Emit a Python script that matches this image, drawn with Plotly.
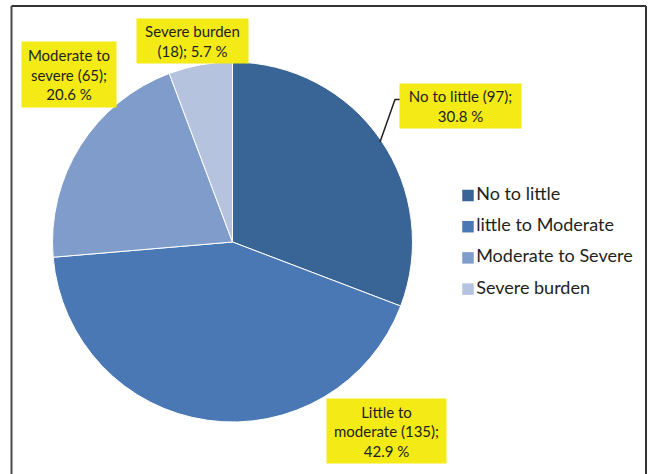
import plotly.graph_objects as go

# Burden categories and respondent counts
categories = ["No to little", "little to Moderate", "Moderate to Severe", "Severe burden"]
counts = [97, 135, 65, 18]
slice_colors = ["#386595", "#4a78b5", "#7f9ccb", "#b5c3de"]

# Callout label templates (one per slice)
label_templates = [
    "No to little ({n});<br>{p} %",
    "Little to<br>moderate ({n});<br>{p} %",
    "Moderate to<br>severe ({n});<br>{p} %",
    "Severe burden<br>({n}); {p} %",
]

W, H = 649, 474
FONT = "Lato"
TEXT = "#231f20"
YELLOW = "#f3ea16"

total = sum(counts)
pcts = [round(100 * c / total, 1) for c in counts]

# pie geometry in pixels
cx, cy, r = 232.5, 242, 180

fig = go.Figure()
fig.add_trace(go.Pie(
    labels=categories, values=counts, sort=False, direction="clockwise",
    marker=dict(colors=slice_colors, line=dict(color="white", width=1)),
    textinfo="none", showlegend=False,
    domain=dict(x=[(cx - r) / W, (cx + r) / W], y=[1 - (cy + r) / H, 1 - (cy - r) / H]),
))

# legend drawn as square markers with text on a pixel-space overlay axis
leg_x, leg_y0, leg_dy = 468, 195.5, 31.2
fig.add_trace(go.Scatter(
    x=[leg_x] * len(categories),
    y=[leg_y0 + i * leg_dy for i in range(len(categories))],
    mode="markers+text", text=categories, textposition="middle right",
    marker=dict(symbol="square", size=11.5, color=slice_colors),
    textfont=dict(family=FONT, size=18, color=TEXT),
    showlegend=False, hoverinfo="skip", cliponaxis=False,
))

# callout boxes: (center x, center y, inner width, inner height)
boxes = [
    (460.5, 106, 115, 38),
    (386.5, 431, 113, 58),
    (69, 74.5, 88, 59),
    (192, 41, 105, 38),
]
annotations = []
for tpl, n, p, (bx, by, bw, bh) in zip(label_templates, counts, pcts, boxes):
    annotations.append(dict(
        x=bx, y=by, xref="x", yref="y", showarrow=False,
        text=tpl.format(n=n, p=p), align="center",
        width=bw, height=bh, borderpad=3, bgcolor=YELLOW,
        font=dict(family=FONT, size=15, color=TEXT),
    ))

shapes = [
    # frame: left, top, right
    dict(type="line", xref="x", yref="y", x0=11.5, y0=6, x1=11.5, y1=480,
         line=dict(color="#4a4a4a", width=2)),
    dict(type="line", xref="x", yref="y", x0=11.5, y0=6, x1=646, y1=6,
         line=dict(color="#333333", width=2)),
    dict(type="line", xref="x", yref="y", x0=646, y0=6, x1=646, y1=480,
         line=dict(color="#333333", width=2)),
    # leader line to the "No to little" callout
    dict(type="path", xref="x", yref="y", path="M 380 142 L 395 99.5 L 403 99.5",
         line=dict(color="#231f20", width=1.5)),
]

fig.update_layout(
    width=W, height=H, margin=dict(l=0, r=0, t=0, b=0),
    paper_bgcolor="white", plot_bgcolor="rgba(0,0,0,0)",
    xaxis=dict(range=[0, W], domain=[0, 1], visible=False, fixedrange=True),
    yaxis=dict(range=[H, 0], domain=[0, 1], visible=False, fixedrange=True),
    annotations=annotations, shapes=shapes, showlegend=False,
)

fig.write_html("out.html")
